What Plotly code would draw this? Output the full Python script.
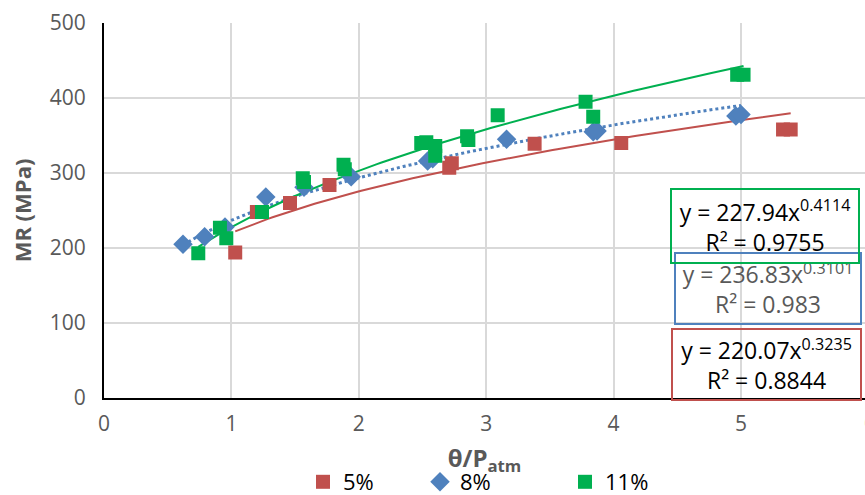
import numpy as np
import plotly.graph_objects as go

# Measured resilient modulus vs normalised bulk stress, three moisture levels
x_5 = [1.03, 1.20, 1.46, 1.77, 2.71, 2.73, 3.38, 4.06, 5.33, 5.39]
y_5 = [194, 248, 260, 284, 307, 313, 339, 340, 358, 358]

x_8 = [0.62, 0.79, 0.95, 1.27, 1.57, 1.94, 2.54, 2.58, 3.16, 3.84, 3.87, 4.96, 5.00]
y_8 = [205, 215, 228, 268, 281, 295, 316, 319, 345, 355, 356, 376, 378]

x_11 = [0.74, 0.91, 0.96, 1.24, 1.56, 1.57, 1.88, 1.89, 2.49, 2.53, 2.60, 2.60,
        2.85, 2.86, 3.09, 3.78, 3.84, 4.97, 5.02]
y_11 = [193, 227, 213, 248, 293, 288, 311, 305, 340, 341, 336, 323,
        349, 344, 377, 395, 375, 431, 431]

# Power-law fits y = a * x^b
fit_5 = (220.07, 0.3235, 0.8844)
fit_8 = (236.83, 0.3101, 0.983)
fit_11 = (227.94, 0.4114, 0.9755)

x_ticks = [0, 1, 2, 3, 4, 5]
y_ticks = [0, 100, 200, 300, 400, 500]

RED = "#C0504D"
BLUE = "#4F81BD"
GREEN = "#00B050"
GREY = "#595959"
FONT = "Open Sans"


def power_curve(xs, fit):
    a, b, _ = fit
    xx = np.linspace(min(xs), max(xs), 120)
    return xx, a * xx ** b


fig = go.Figure()

# trend lines first so markers sit above them
for xs, fit, color, dash, width in [
    (x_5, fit_5, RED, "solid", 2),
    (x_8, fit_8, BLUE, "dot", 3),
    (x_11, fit_11, GREEN, "solid", 2),
]:
    cx, cy = power_curve(xs, fit)
    fig.add_trace(go.Scatter(x=cx, y=cy, mode="lines", showlegend=False,
                             line=dict(color=color, width=width, dash=dash),
                             hoverinfo="skip"))

fig.add_trace(go.Scatter(x=x_5, y=y_5, mode="markers", name="5%", legend="legend",
                         marker=dict(symbol="square", size=14, color=RED)))
fig.add_trace(go.Scatter(x=x_8, y=y_8, mode="markers", name="8%", legend="legend2",
                         marker=dict(symbol="diamond", size=15, color=BLUE)))
fig.add_trace(go.Scatter(x=x_11, y=y_11, mode="markers", name="11%", legend="legend3",
                         marker=dict(symbol="square", size=14, color=GREEN)))

L, T, B = 104, 23, 97
W, H = 865, 495
pw, ph = W - L, H - T - B
unit = 127.4
x_max = pw / unit


def px(xp):
    return (xp - L) / pw


def py(yp):
    return (H - B - yp) / ph


def eq_text(fit):
    a, b, r2 = fit
    return f"y = {a:.2f}x<sup>{b:g}</sup><br>R² = {r2:g}"


legend_common = dict(orientation="h", yanchor="middle", xanchor="left",
                     font=dict(family=FONT, size=22, color="#000000"),
                     bgcolor="rgba(0,0,0,0)", itemwidth=30)

fig.update_layout(
    width=W, height=H,
    margin=dict(l=L, r=0, t=T, b=B, autoexpand=False),
    paper_bgcolor="white", plot_bgcolor="white",
    xaxis=dict(range=[0, x_max], tickvals=x_ticks, showgrid=True,
               gridcolor="#D9D9D9", gridwidth=2, zeroline=False,
               showline=True, linecolor="#000000", linewidth=2,
               tickfont=dict(family=FONT, size=21, color=GREY), ticks="",
               ticklabelstandoff=6,
               title=dict(text="<b>θ/P<sub>atm</sub></b>", standoff=14,
                          font=dict(family=FONT, size=24, color=GREY))),
    yaxis=dict(range=[0, 500], tickvals=y_ticks, showgrid=True,
               gridcolor="#D9D9D9", gridwidth=2, zeroline=False,
               showline=True, linecolor="#000000", linewidth=2,
               tickfont=dict(family=FONT, size=21, color=GREY), ticks="",
               ticklabelstandoff=12,
               title=dict(text="<b>MR (MPa)</b>", standoff=12,
                          font=dict(family=FONT, size=22, color=GREY))),
    legend=dict(x=px(303), y=py(482), **legend_common),
    legend2=dict(x=px(420), y=py(482), **legend_common),
    legend3=dict(x=px(565), y=py(482), **legend_common),
    font=dict(family=FONT),
)

# tick label for 6 sits at the right edge of the page
fig.add_annotation(xref="paper", yref="paper", x=1.0, y=py(422), text="6",
                   xanchor="left", yanchor="middle", xshift=-3,
                   showarrow=False, font=dict(family=FONT, size=21, color=GREY))

# equation boxes
for fit, color, txt_color, cx, cy, bw, bh in [
    (fit_8, BLUE, GREY, 768, 288.5, 184, 69),
    (fit_11, GREEN, "#000000", 765, 226, 186, 72),
    (fit_5, RED, "#000000", 766, 364.5, 187, 69),
]:
    fig.add_annotation(xref="paper", yref="paper", x=px(cx), y=py(cy),
                       xanchor="center", yanchor="middle", text=eq_text(fit),
                       showarrow=False, align="center", width=bw, height=bh,
                       bordercolor=color, borderwidth=2, borderpad=0,
                       font=dict(family=FONT, size=23, color=txt_color))

fig.write_html("out.html")
